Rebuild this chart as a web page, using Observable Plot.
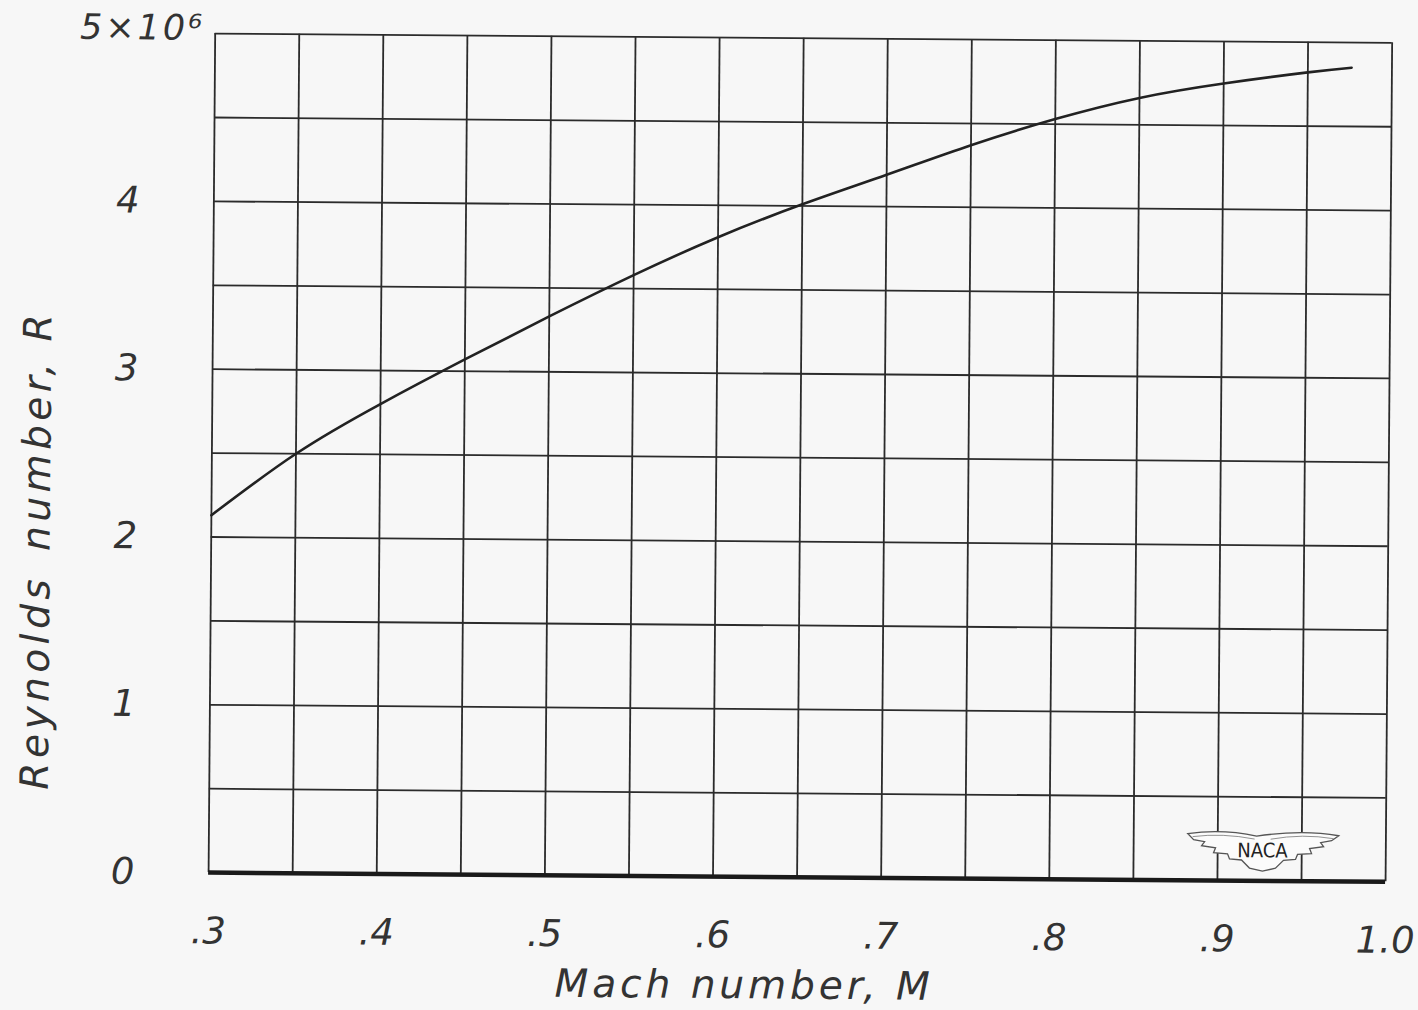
<!DOCTYPE html>
<html>
<head>
<meta charset="utf-8">
<script src="https://cdn.jsdelivr.net/npm/d3@7"></script>
<script src="https://cdn.jsdelivr.net/npm/@observablehq/plot@0.6"></script>
<style>
  html, body { margin: 0; padding: 0; background: #f7f7f7; }
  #chart svg { display: block; transform: rotate(0.45deg); transform-origin: 50% 50%; }
</style>
</head>
<body>
<div id="chart"></div>
<script>
// ---- data ----
const machNumber = [0.30, 0.35, 0.40, 0.45, 0.50, 0.55, 0.60, 0.65, 0.70, 0.75, 0.80, 0.85, 0.90, 0.95, 0.976];
const reynoldsMillions = [2.13, 2.50, 2.80, 3.07, 3.33, 3.58, 3.81, 4.01, 4.19, 4.37, 4.53, 4.66, 4.75, 4.82, 4.85];

const xTickValues = [0.3, 0.4, 0.5, 0.6, 0.7, 0.8, 0.9, 1.0];
const xTickLabels = [".3", ".4", ".5", ".6", ".7", ".8", ".9", "1.0"];
const yTickValues = [0, 1, 2, 3, 4];
const yTickLabels = ["0", "1", "2", "3", "4"];
const yTopValue = [5];
const yTopLabel = "5×10⁶";
const gridX = [0.3, 0.35, 0.4, 0.45, 0.5, 0.55, 0.6, 0.65, 0.7, 0.75, 0.8, 0.85, 0.9, 0.95, 1.0];
const gridY = [0.5, 1, 1.5, 2, 2.5, 3, 3.5, 4, 4.5, 5];
const xLabel = "Mach number, M";
const yLabel = "Reynolds\u2002number, R";
const logoText = "NACA";
const logoPosition = [0.927, 0.18];

const curve = machNumber.map((m, i) => ({m, r: reynoldsMillions[i]}));

const ink = "#2b2b2b";
const textInk = "#333";
const font = "'DejaVu Sans', sans-serif";

function nacaLogo(index, scales) {
  const cx = scales.x(logoPosition[0]);
  const cy = scales.y(logoPosition[1]);
  const g = d3.create("svg:g").attr("transform", `translate(${cx},${cy})`);
  const wing = "M -75,-16 Q -40,-21 -6,-14 Q 40,-21 76,-15 L 69,-10 L 58,-8 L 61,-4 L 47,-2 L 49,3 L 35,4 L 33,9 L 21,10 L 13,18 L 0,21 L -13,18 L -21,10 L -33,9 L -35,4 L -49,3 L -47,-2 L -61,-4 L -58,-8 L -69,-10 Z";
  g.append("path").attr("d", wing).attr("fill", "#fbfbfb").attr("stroke", "#555").attr("stroke-width", 1.3);
  g.append("path").attr("d", "M -70,-13 Q -40,-17 -8,-11 M 8,-11 Q 40,-17 71,-12").attr("fill", "none").attr("stroke", "#777").attr("stroke-width", 0.8);
  g.append("text").text(logoText)
    .attr("text-anchor", "middle").attr("dy", "0.36em").attr("y", 0)
    .attr("font-family", "'DejaVu Sans Condensed', 'DejaVu Sans', sans-serif")
    .attr("font-size", 20).attr("fill", "#222");
  return g.node();
}

const chart = Plot.plot({
  width: 1418,
  height: 1010,
  marginLeft: 211,
  marginRight: 30,
  marginTop: 37,
  marginBottom: 134,
  style: { background: "transparent", fontFamily: font, color: ink },
  x: { domain: [0.3, 1.0], axis: null },
  y: { domain: [0, 5], axis: null },
  marks: [
    Plot.ruleX(gridX, { stroke: ink, strokeWidth: 1.8 }),
    Plot.ruleY(gridY, { stroke: ink, strokeWidth: 1.8 }),
    Plot.ruleY([0], { stroke: "#1a1a1a", strokeWidth: 4.5 }),
    Plot.line(curve, { x: "m", y: "r", stroke: "#222", strokeWidth: 2.6, curve: "natural" }),
    Plot.text(xTickValues, {
      x: d => d, frameAnchor: "bottom", dy: 59, lineAnchor: "middle",
      text: (d, i) => xTickLabels[i], fontSize: 37, fontStyle: "oblique", fill: textInk
    }),
    Plot.text(yTickValues, {
      y: d => d, frameAnchor: "left", dx: -86, textAnchor: "middle", lineAnchor: "middle",
      text: (d, i) => yTickLabels[i], fontSize: 37, fontStyle: "oblique", fill: textInk
    }),
    Plot.text(yTopValue, {
      y: d => d, frameAnchor: "left", dx: -10, dy: -5, textAnchor: "end", lineAnchor: "middle",
      text: () => yTopLabel, fontSize: 35, fontStyle: "oblique", fill: textInk
    }),
    Plot.text([xLabel], {
      frameAnchor: "bottom", textAnchor: "middle", dx: -52, dy: 109, lineAnchor: "middle",
      fontSize: 39, fontStyle: "oblique", fill: textInk
    }),
    Plot.text([yLabel], {
      frameAnchor: "left", textAnchor: "middle", rotate: -90, dx: -174, dy: 98, lineAnchor: "middle",
      fontSize: 39, fontStyle: "oblique", fill: textInk
    }),
    nacaLogo
  ]
});

// hand-lettered spacing of the titles
const spacing = new Map([[xLabel, 4], [yLabel, 4.5], [yTopLabel, 3]]);
d3.select(chart).selectAll("text").each(function () {
  const s = spacing.get(this.textContent);
  if (s) this.style.letterSpacing = s + "px";
});

document.getElementById("chart").appendChild(chart);
</script>
</body>
</html>
